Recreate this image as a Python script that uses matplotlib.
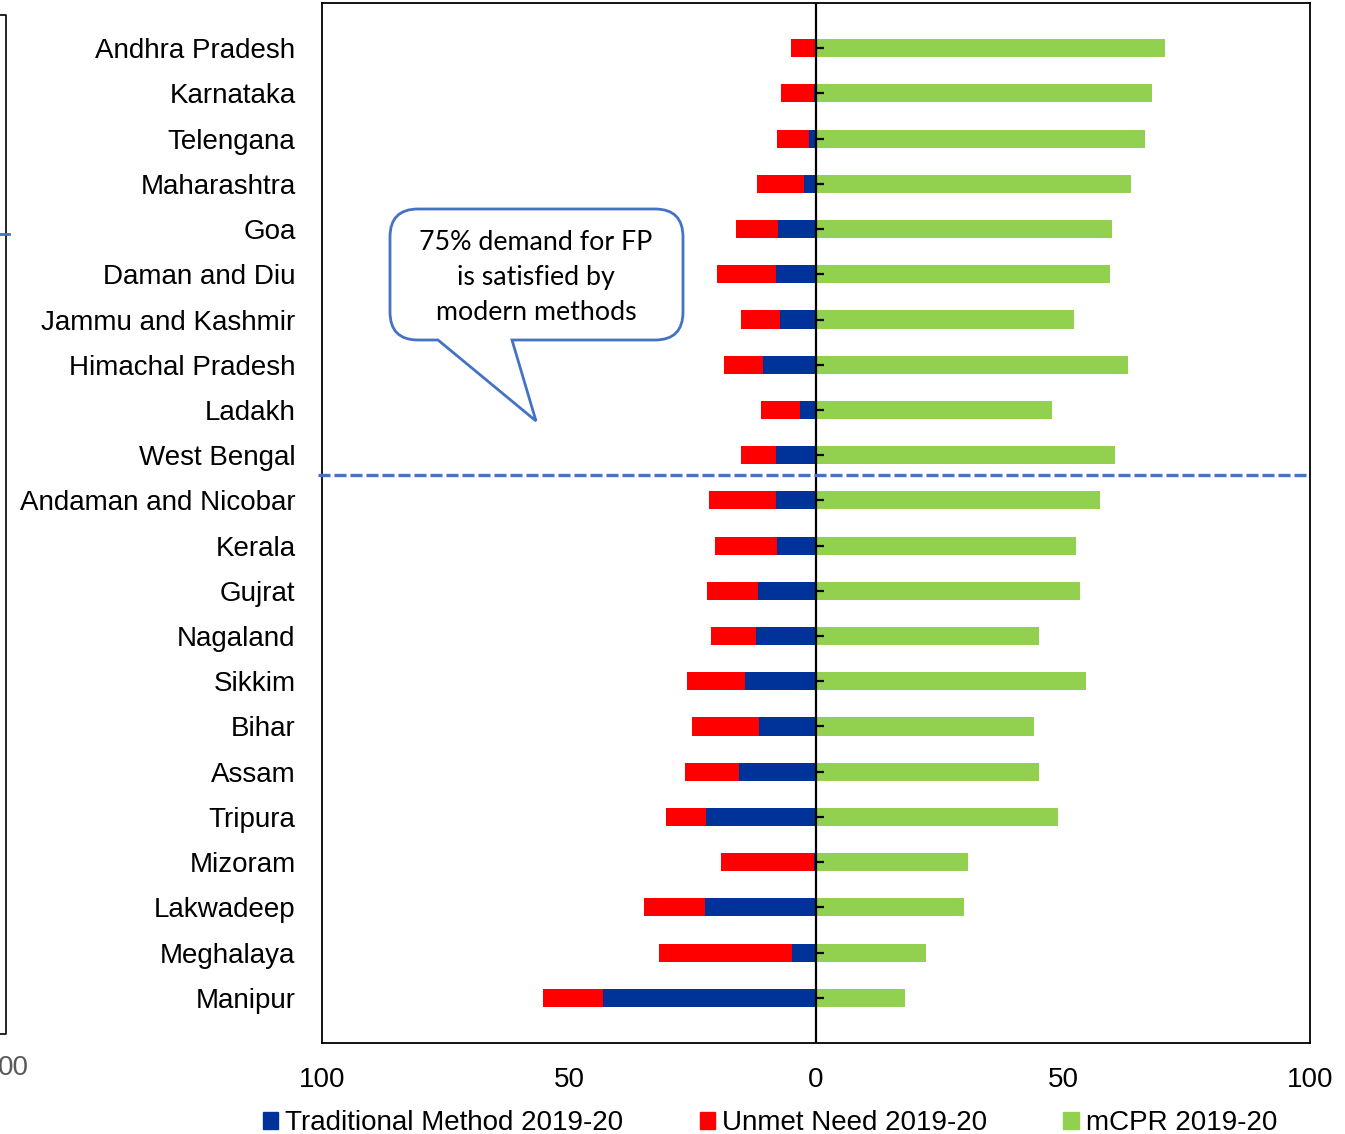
import numpy as np
import matplotlib.pyplot as plt
from matplotlib.path import Path
from matplotlib.patches import PathPatch, Patch
from matplotlib.lines import Line2D
import matplotlib.transforms as mtransforms

# Data (percent)
states = ["Andhra Pradesh", "Karnataka", "Telengana", "Maharashtra", "Goa",
          "Daman and Diu", "Jammu and Kashmir", "Himachal Pradesh", "Ladakh",
          "West Bengal", "Andaman and Nicobar", "Kerala", "Gujrat", "Nagaland",
          "Sikkim", "Bihar", "Assam", "Tripura", "Mizoram", "Lakwadeep",
          "Meghalaya", "Manipur"]
traditional = [0.0, 0.5, 1.4, 2.4, 7.7, 8.1, 7.3, 10.7, 3.2, 8.1, 8.1, 7.9,
               11.7, 12.1, 14.4, 11.5, 15.6, 22.3, 0.5, 22.5, 4.9, 43.1]
unmet = [5.1, 6.5, 6.5, 9.6, 8.5, 11.9, 7.9, 7.9, 7.9, 7.1, 13.6, 12.5,
         10.4, 9.2, 11.7, 13.6, 10.9, 8.1, 18.8, 12.3, 26.9, 12.2]
mcpr = [70.6, 68.0, 66.6, 63.8, 59.9, 59.5, 52.2, 63.2, 47.8, 60.5, 57.5, 52.6,
        53.4, 45.1, 54.7, 44.1, 45.1, 49.0, 30.8, 30.0, 22.3, 18.0]
xticks = [-100, -50, 0, 50, 100]
split_after = 9  # dashed line between West Bengal and Andaman and Nicobar

BLUE = "#003399"
RED = "#FF0000"
GREEN = "#92D050"
LINE_BLUE = "#4472C4"

W, H = 1345, 1134
fig = plt.figure(figsize=(W / 100, H / 100), dpi=100)
ax = fig.add_axes([322 / W, 91 / H, 988 / W, 1040 / H])

y = np.arange(len(states))
trad = np.array(traditional)
ax.barh(y, mcpr, height=0.4, color=GREEN)
ax.barh(y, -trad, height=0.4, color=BLUE)
ax.barh(y, -np.array(unmet), left=-trad, height=0.4, color=RED)

ax.axvline(0, color="black", lw=1.6, zorder=3)
ax.hlines(y, 0, 1.6, color="black", lw=1.6, zorder=3)
ax.plot([-100.8, 100], [split_after + 0.43] * 2, color=LINE_BLUE, lw=2.4,
        ls=(0, (3.6, 1.2)), clip_on=False, zorder=4)

ax.set_xlim(-100, 100)
ax.set_ylim(len(states), -1)
ax.set_yticks(y)
ax.set_yticklabels(states, fontsize=20, family="Liberation Sans")
ax.tick_params(axis="y", length=0, pad=19)
ax.set_xticks(xticks)
ax.set_xticklabels([str(abs(v)) for v in xticks], fontsize=20,
                   family="Liberation Sans")
ax.tick_params(axis="x", length=0, pad=17.5)
for s in ax.spines.values():
    s.set_linewidth(1.3)

# callout box, drawn in figure pixels (origin top-left)
px = mtransforms.Affine2D().scale(1 / W, -1 / H).translate(0, 1) + fig.transFigure
x0, x1, y0, y1, r = 390, 683, 209, 340, 28
verts = [(x0 + r, y0), (x1 - r, y0), (x1, y0), (x1, y0 + r), (x1, y1 - r),
         (x1, y1), (x1 - r, y1), (512, y1), (536, 421), (438, y1),
         (x0 + r, y1), (x0, y1), (x0, y1 - r), (x0, y0 + r), (x0, y0),
         (x0 + r, y0), (x0 + r, y0)]
codes = [Path.MOVETO, Path.LINETO, Path.CURVE3, Path.CURVE3, Path.LINETO,
         Path.CURVE3, Path.CURVE3, Path.LINETO, Path.LINETO, Path.LINETO,
         Path.LINETO, Path.CURVE3, Path.CURVE3, Path.LINETO, Path.CURVE3,
         Path.CURVE3, Path.CLOSEPOLY]
fig.patches.append(PathPatch(Path(verts, codes), transform=px, facecolor="white",
                             edgecolor=LINE_BLUE, lw=2.0, zorder=5))
for i, line in enumerate(["75% demand for FP", "is satisfied by", "modern methods"]):
    fig.text(536 / W, 1 - (243 + 35 * i) / H, line, ha="center", va="center",
             fontsize=19.3, family="Lato", zorder=6)

# bits of the neighbouring chart cut off at the left edge
fig.add_artist(Line2D([0, 6, 6, 0], [15, 15, 1034, 1034], transform=px,
                      color="black", lw=1.2))
fig.add_artist(Line2D([0, 9], [234, 234], transform=px, color=LINE_BLUE, lw=2))
fig.text(-2 / W, 1 - 1068 / H, "00", fontsize=20, color="#595959",
         family="Liberation Sans", va="center", ha="left")

handles = [Patch(color=BLUE), Patch(color=RED), Patch(color=GREEN)]
fig.legend(handles, ["Traditional Method 2019-20", "Unmet Need 2019-20",
                     "mCPR 2019-20"], loc="center", bbox_to_anchor=(770 / W, 1 - 1123 / H),
           ncol=3, frameon=False, prop={"family": "Liberation Sans", "size": 20},
           handlelength=0.55, handleheight=0.55, handletextpad=0.25,
           columnspacing=2.75, borderpad=0)

fig.savefig("out.png", dpi=100)
